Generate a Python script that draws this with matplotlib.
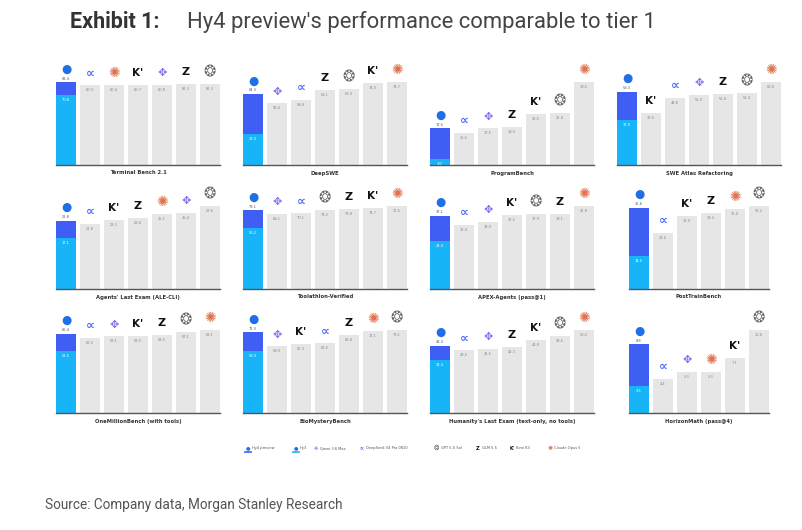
import matplotlib.pyplot as plt
from matplotlib.lines import Line2D

# Benchmarks, laid out row by row (4 per row)
panel_titles = ['Terminal Bench 2.1', 'DeepSWE', 'ProgramBench', 'SWE Atlas Refactoring',
                "Agents' Last Exam (ALE-CLI)", 'Toolathlon-Verified', 'APEX-Agents (pass@1)', 'PostTrainBench',
                'OneMillionBench (with tools)', 'BioMysteryBench',
                "Humanity's Last Exam (text-only, no tools)", 'HorizonMath (pass@4)']

# Hy4 preview score (full bar) and Hy3 score (inner part of the same bar)
hy4_scores = [83.4, 64.3, 17.6, 53.3, 22.8, 73.1, 37.1, 35.6, 65.4, 71.3, 43.4, 8.8]
hy3_scores = [70.8, 28.0, 3.0, 32.9, 17.1, 56.2, 24.4, 14.6, 51.5, 54.9, 34.4, 3.5]

# Competitor bars in each panel, in the order they are drawn
rival_models = [
    ['deepseek', 'claude', 'kimi', 'qwen', 'glm', 'gpt'],
    ['qwen', 'deepseek', 'glm', 'gpt', 'kimi', 'claude'],
    ['deepseek', 'qwen', 'glm', 'kimi', 'gpt', 'claude'],
    ['kimi', 'deepseek', 'qwen', 'glm', 'gpt', 'claude'],
    ['deepseek', 'kimi', 'glm', 'claude', 'qwen', 'gpt'],
    ['qwen', 'deepseek', 'gpt', 'glm', 'kimi', 'claude'],
    ['deepseek', 'qwen', 'kimi', 'gpt', 'glm', 'claude'],
    ['deepseek', 'kimi', 'glm', 'claude', 'gpt'],
    ['deepseek', 'qwen', 'kimi', 'glm', 'gpt', 'claude'],
    ['qwen', 'kimi', 'deepseek', 'glm', 'claude', 'gpt'],
    ['deepseek', 'qwen', 'glm', 'kimi', 'gpt', 'claude'],
    ['deepseek', 'qwen', 'claude', 'kimi', 'gpt'],
]
rival_scores = [
    [80.3, 80.4, 80.7, 80.8, 81.3, 81.3],
    [55.6, 58.8, 68.1, 68.9, 74.0, 74.7],
    [15.5, 17.5, 18.0, 24.5, 25.0, 39.5],
    [37.6, 48.8, 51.0, 51.8, 52.4, 60.0],
    [21.8, 23.2, 23.8, 25.1, 25.4, 27.6],
    [69.1, 70.1, 73.2, 73.8, 74.7, 76.5],
    [32.4, 34.0, 37.2, 37.9, 38.1, 41.8],
    [24.6, 32.0, 33.2, 35.0, 36.2],
    [62.0, 63.1, 63.5, 64.5, 67.1, 68.1],
    [58.9, 61.3, 61.6, 69.0, 72.1, 73.1],
    [40.5, 41.5, 42.3, 46.8, 49.6, 53.2],
    [4.4, 5.3, 5.3, 7.1, 10.6],
]

legend_models = ['hy4', 'hy3', 'qwen', 'deepseek', 'gpt', 'glm', 'kimi', 'claude']
legend_labels = ['Hy4 preview', 'Hy3', 'Qwen 3.6 Max', 'DeepSeek V4 Pro 0810', 'GPT 5.5 Sol',
                 'GLM 5.5', 'Kimi K3', 'Claude Opus 5']

# stand-in glyphs for the logos: (glyph, colour, weight, size)
icons = {
    'hy4': ('\u25CF', '#1f6fe6', 'normal', 8.5),
    'hy3': ('\u25CF', '#1f6fe6', 'normal', 8.5),
    'deepseek': ('\u221D', '#4d6bfe', 'bold', 9),
    'qwen': ('\u2725', '#7d6cf0', 'normal', 8),
    'claude': ('\u273A', '#de7350', 'normal', 10),
    'kimi': ("K'", '#111111', 'bold', 7.5),
    'glm': ('Z', '#111111', 'bold', 8),
    'gpt': ('\u2742', '#666666', 'normal', 10.5),
}

HY4_BLUE = '#3f5ff4'
HY3_CYAN = '#18b4f8'
GREY = '#e6e6e6'
W, H = 802, 530
PT = 72 / 100  # pixels -> points at dpi 100


def draw_icon(ax, x, y, model, dy):
    glyph, color, weight, size = icons[model]
    ax.annotate(glyph, (x, y), xytext=(0, dy * PT), textcoords='offset points',
                ha='center', va='center', fontsize=size, color=color,
                fontweight=weight, family='DejaVu Sans', annotation_clip=False)


fig = plt.figure(figsize=(W / 100, H / 100), dpi=100)
fig.patch.set_facecolor('white')

col_left = [54, 241, 428, 615]
row_base = [165, 289, 413]
ax_w, ax_h = 168, 100
bar_w = 0.84

for k, title in enumerate(panel_titles):
    r, c = divmod(k, 4)
    ax = fig.add_axes([col_left[c] / W, 1 - row_base[r] / H, ax_w / W, ax_h / H])
    models = rival_models[k]
    scores = rival_scores[k]
    n = len(models) + 1
    vmax = max([hy4_scores[k]] + scores)

    ax.bar(0, hy4_scores[k], width=bar_w, color=HY4_BLUE)
    ax.bar(0, hy3_scores[k], width=bar_w, color=HY3_CYAN)
    xs = list(range(1, n))
    ax.bar(xs, scores, width=bar_w, color=GREY)

    # labels
    ax.annotate(f'{hy4_scores[k]:.1f}', (0, hy4_scores[k]), xytext=(0, 3.5 * PT),
                textcoords='offset points', ha='center', va='center',
                fontsize=2.6, color='#556')
    ax.annotate(f'{hy3_scores[k]:.1f}', (0, hy3_scores[k]), xytext=(0, -5 * PT),
                textcoords='offset points', ha='center', va='center',
                fontsize=2.6, color='white')
    draw_icon(ax, 0, hy4_scores[k], 'hy4', 13)
    for x, m, v in zip(xs, models, scores):
        ax.annotate(f'{v:.1f}', (x, v), xytext=(0, -5 * PT), textcoords='offset points',
                    ha='center', va='center', fontsize=2.6, color='#888888')
        draw_icon(ax, x, v, m, 12)

    if n == 7:
        ax.set_xlim(-0.5, 6.5)
    else:
        ax.set_xlim(-1.0, 6.0)
    ax.set_ylim(0, vmax * 1.21)
    for s in ['top', 'right', 'left']:
        ax.spines[s].set_visible(False)
    ax.spines['bottom'].set_color('#555555')
    ax.spines['bottom'].set_linewidth(1.0)
    ax.spines['bottom'].set_bounds(-bar_w / 2, n - 1 + bar_w / 2)
    ax.set_xticks([])
    ax.set_yticks([])
    ax.patch.set_alpha(0)
    ax.annotate(title, (0.5, 0), xycoords='axes fraction', xytext=(0, -8 * PT),
                textcoords='offset points', ha='center', va='center',
                fontsize=3.8, fontweight='bold', color='#333333')

# legend row
leg_x = [248, 296, 316, 362, 437, 478, 512, 550]
leg_y = 448
for x, m, lab in zip(leg_x, legend_models, legend_labels):
    glyph, color, weight, size = icons[m]
    fig.text(x / W, 1 - leg_y / H, glyph, ha='center', va='center', fontsize=size * 0.45,
             color=color, fontweight=weight, family='DejaVu Sans')
    fig.text((x + 4) / W, 1 - leg_y / H, lab, ha='left', va='center', fontsize=2.6,
             color='#555555')
    if m in ('hy4', 'hy3'):
        line_color = HY4_BLUE if m == 'hy4' else HY3_CYAN
        fig.add_artist(Line2D([(x - 3) / W, (x + 3) / W], [1 - (leg_y + 4) / H] * 2,
                              color=line_color, lw=1.2))

fig.text(70 / W, 1 - 22 / H, 'Exhibit 1:', ha='left', va='center', fontsize=15.5,
         fontweight='bold', color='#333333', family='Roboto')
fig.text(187 / W, 1 - 22 / H, "Hy4 preview's performance comparable to tier 1", ha='left',
         va='center', fontsize=15.8, color='#444444', family='Roboto')
fig.text(45 / W, 1 - 505 / H, 'Source: Company data, Morgan Stanley Research', ha='left',
         va='center', fontsize=9.8, color='#555555', family='Roboto')

fig.savefig('out.png', dpi=100, facecolor='white')
